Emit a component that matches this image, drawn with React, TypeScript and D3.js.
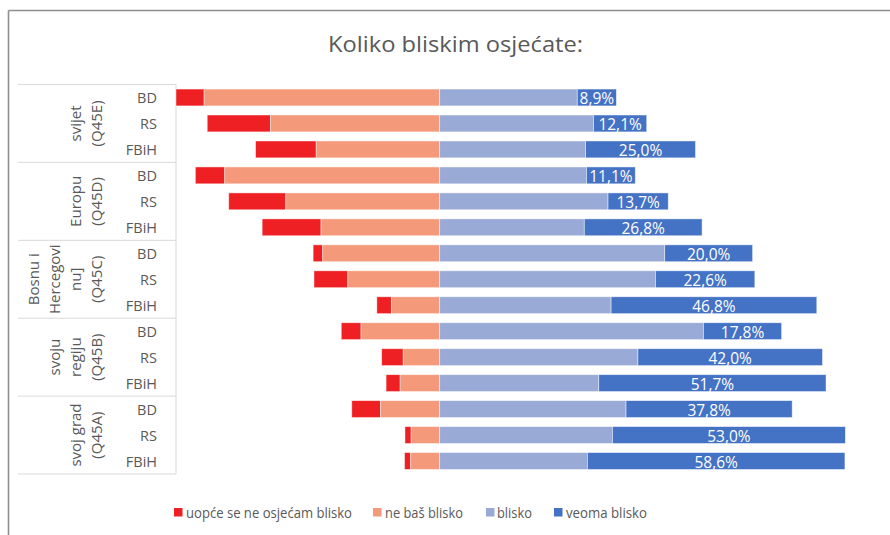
import React from "react";
import * as d3 from "d3";

const title = "Koliko bliskim osjećate:";
const groupLines: string[][] = [
  ["svijet", "(Q45E)"],
  ["Europu", "(Q45D)"],
  ["Bosnu i", "Hercegovi", "nu]", "(Q45C)"],
  ["svoju", "regiju", "(Q45B)"],
  ["svoj grad", "(Q45A)"],
];
const regions = ["BD", "RS", "FBiH"];
const seriesNames = ["uopće se ne osjećam blisko", "ne baš blisko", "blisko", "veoma blisko"];
const seriesColors = ["#EE2024", "#F4997A", "#9AAAD6", "#4472C4"];

const uopce = [6.4, 14.4, 13.8, 6.7, 13.0, 13.4, 2.2, 7.7, 3.3, 4.5, 4.9, 3.2, 6.5, 1.4, 1.4];
const neBas = [53.6, 38.5, 28.1, 48.9, 35.0, 27.0, 26.6, 20.9, 11.0, 17.9, 8.3, 9.0, 13.5, 6.5, 6.6];
const blisko = [31.3, 35.0, 33.2, 33.4, 38.3, 32.9, 51.2, 49.1, 39.0, 60.0, 45.1, 36.2, 42.4, 39.3, 33.6];
const veoma = [8.9, 12.1, 25.0, 11.1, 13.7, 26.8, 20.0, 22.6, 46.8, 17.8, 42.0, 51.7, 37.8, 53.0, 58.6];

const W = 890;
const H = 535;
const FONT = "'Open Sans', 'Noto Sans', sans-serif";
const TXT = "#595959";
const GRID = "#D9D9D9";

export default function App() {
  const rowKeys = groupLines.flatMap((_, gi) => regions.map((r) => `${gi}-${r}`));
  const plotTop = 84.5;
  const plotBottom = 474;
  const y = d3.scaleBand<string>().domain(rowKeys).range([plotTop, plotBottom]).paddingInner(0.35).paddingOuter(0.175);
  const x = d3.scaleLinear().domain([-60, 100]).range([176, 176 + 160 * 4.395]);
  const fmt = (v: number) => d3.format(".1f")(v).replace(".", ",") + "%";

  const rows = rowKeys.map((key, i) => {
    const segs = [
      { s: 0, x0: -(uopce[i] + neBas[i]), x1: -neBas[i] },
      { s: 1, x0: -neBas[i], x1: 0 },
      { s: 2, x0: 0, x1: blisko[i] },
      { s: 3, x0: blisko[i], x1: blisko[i] + veoma[i] },
    ];
    return { key, i, segs };
  });

  const groupH = (plotBottom - plotTop) / groupLines.length;
  const legendPos = [
    { sx: 174, tx: 186, tl: 166 },
    { sx: 373, tx: 385, tl: 78 },
    { sx: 486, tx: 497, tl: 35 },
    { sx: 554, tx: 566, tl: 81 },
  ];

  return (
    <div style={{ position: "absolute", left: 0, top: 0 }}>
      <svg width={W} height={H} style={{ display: "block", background: "#fff" }} fontFamily={FONT}>
        <rect x={0} y={0} width={W} height={H} fill="#fff" />
        {/* chart frame */}
        <line x1={8.5} x2={W} y1={10.5} y2={10.5} stroke="#8E8E8E" strokeWidth={1.6} />
        <line x1={8.5} x2={8.5} y1={10.5} y2={H} stroke="#8E8E8E" strokeWidth={1.6} />

        <text x={455.5} y={52} textAnchor="middle" fontSize={22} fill={TXT} textLength={255} lengthAdjust="spacingAndGlyphs">
          {title}
        </text>

        {/* category axis */}
        <line x1={176} x2={176} y1={plotTop} y2={plotBottom} stroke={GRID} strokeWidth={1} />
        {d3.range(groupLines.length + 1).map((k) => (
          <line key={k} x1={18} x2={176} y1={plotTop + k * groupH} y2={plotTop + k * groupH} stroke={GRID} strokeWidth={1} />
        ))}
        {rows.map((r) => (
          <text key={r.key} x={157} y={(y(r.key) as number) + y.bandwidth() / 2 + 0.5} textAnchor="end" dominantBaseline="central" fontSize={14.5} fill={TXT}>
            {regions[r.i % 3]}
          </text>
        ))}
        {groupLines.map((lines, gi) => {
          const gc = plotTop + (gi + 0.5) * groupH;
          return lines.map((ln, li) => {
            const bx = 102 - (lines.length - 1 - li) * 21;
            return (
              <text key={`${gi}-${li}`} transform={`translate(${bx},${gc}) rotate(-90)`} textAnchor="middle" fontSize={15} fill={TXT}>
                {ln}
              </text>
            );
          });
        })}

        {/* bars */}
        {rows.map((r) =>
          r.segs.map((sg) => (
            <rect
              key={`${r.key}-${sg.s}`}
              x={x(sg.x0)}
              y={y(r.key)}
              width={x(sg.x1) - x(sg.x0)}
              height={y.bandwidth()}
              fill={seriesColors[sg.s]}
              stroke="#fff"
              strokeOpacity={0.6}
              strokeWidth={0.75}
            />
          ))
        )}
        {rows.map((r) => {
          const sg = r.segs[3];
          return (
            <text
              key={`lbl-${r.key}`}
              x={(x(sg.x0) + x(sg.x1)) / 2}
              y={(y(r.key) as number) + y.bandwidth() / 2 + 0.5}
              textAnchor="middle"
              dominantBaseline="central"
              fontSize={15.5}
              fill="#fff"
            >
              {fmt(veoma[r.i])}
            </text>
          );
        })}

        {/* legend */}
        {seriesNames.map((n, si) => (
          <g key={n}>
            <rect x={legendPos[si].sx} y={508} width={8.5} height={8.5} fill={seriesColors[si]} />
            <text x={legendPos[si].tx} y={517.5} fontSize={15} fill={TXT} textLength={legendPos[si].tl} lengthAdjust="spacingAndGlyphs">
              {n}
            </text>
          </g>
        ))}
      </svg>
    </div>
  );
}
